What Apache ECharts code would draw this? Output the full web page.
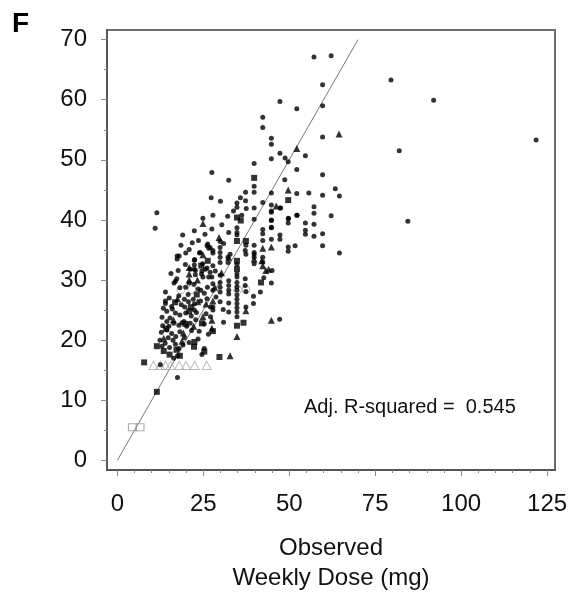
<!DOCTYPE html>
<html>
<head>
<meta charset="utf-8">
<script src="https://cdn.jsdelivr.net/npm/echarts@6/dist/echarts.min.js"></script>
<style>
  html, body { margin: 0; padding: 0; background: #fff; }
  #chart { width: 575px; height: 598px; }
</style>
</head>
<body>
<div id="chart"></div>
<script>
// tick labels
const xTicks = [0, 25, 50, 75, 100, 125];
const xMinorTicks = [0, 5, 10, 15, 20, 25, 30, 35, 40, 45, 50, 55, 60, 65, 70, 75, 80, 85, 90, 95, 100, 105, 110, 115, 120, 125];
const yTicks = [0, 10, 20, 30, 40, 50, 60, 70];
const yMinorTicks = [0, 5, 10, 15, 20, 25, 30, 35, 40, 45, 50, 55, 60, 65, 70];

// identity line (observed = predicted)
const refLine = [[0, 0], [70, 70]];

// [observed, predicted]
const dots = [
  [59.7,62.5],[79.6,63.3],[92,59.9],[59.7,59],[121.8,53.3],[59.7,53.8],[82,51.5],[54.7,50.7],[59.7,47.5],[63.4,45.2],
  [55.7,44.5],[59.7,44.1],[64.6,44],[57.2,42.2],[57.2,41.1],[62.2,40.7],[84.5,39.8],[54.7,39.5],[57.2,39.3],[54.7,38.3],
  [54.7,37.6],[57.2,37.3],[59.7,37.7],[59.7,35.7],[64.6,34.5],[57.2,67.1],[62.2,67.3],[47.3,59.7],[52.2,58.5],[44.8,53.6],
  [44.8,52.6],[47.3,51.1],[44.8,50.2],[48.8,50.3],[49.7,49.7],[42.3,57.1],[42.3,55.4],[39.8,49.4],[52.2,48.4],[27.5,47.9],
  [32.4,46.6],[39.8,45.6],[39.8,44.6],[48.7,46.7],[44.8,44.5],[52.2,44.4],[37.3,44.6],[35.8,43.7],[37.3,43.2],[34.8,42.8],
  [34.8,42.1],[30,43.1],[27.3,43.7],[33.8,41.5],[39.8,42],[42.3,42.9],[44.8,42.5],[44.8,41.5],[47.5,42],[11.5,41.2],
  [11,38.6],[24.9,40.3],[27.8,40.8],[20.9,35.1],[19.9,34.5],[17.4,34],[17.4,33.5],[23.9,34.5],[26.1,35.7],[26.6,35.3],
  [27.8,34.9],[27.8,34.5],[22.4,33.3],[24.8,32.7],[22.4,32.5],[26.1,32],[27.8,32.4],[52.2,40.8],[49.7,40.2],[49.7,39.5],
  [39.8,40.1],[44.8,40],[34.8,38.7],[34.8,37.9],[42.3,38.4],[42.3,37.7],[44.8,38.7],[47.3,37.5],[47.3,36.8],[30.9,36.1],
  [37.4,35.8],[39.8,35.8],[42.3,36.6],[49.7,35.5],[49.7,34.8],[51.7,35.7],[29.9,34.6],[29.9,33.8],[32.8,34.3],[34.8,32.6],
  [37.4,34.3],[39.8,34.3],[39.8,32.7],[42.3,33.8],[42.3,33],[45,31.6],[22.4,38.2],[29.9,36.4],[32.4,37.9],[34.8,37.5],
  [44.8,36.8],[16.9,29.8],[16.5,29.5],[20.9,29.5],[24.9,30.5],[26.6,30.5],[27.5,30.5],[24.5,31],[27.8,29.4],[14,26.5],
  [17.9,27.4],[19.5,26.8],[20.7,26.4],[22.1,26.8],[22.4,26],[26.1,26.9],[27.1,25.5],[22.4,25],[19.9,24.5],[18.2,24.2],
  [16.9,24.5],[14.4,24.8],[15.3,23.7],[14.4,23.1],[16.4,22.8],[17.9,22.5],[19.4,23.1],[20.2,22.3],[21.2,22.8],[22.8,23.4],
  [25.8,24.4],[27.1,23.9],[25.3,22.7],[14.4,21.7],[15.8,21.1],[17,20.6],[18.2,21.4],[12.4,20],[13.9,19.5],[13,19],
  [15.2,18.8],[17.9,18.6],[19.1,19.2],[20.9,19.6],[25.3,18.6],[24.6,17.6],[17.5,17.4],[16.4,17],[12.5,15.9],[17.5,13.8],
  [34.8,31],[34.8,30.5],[34.8,29.6],[34.8,28.9],[34.8,28.3],[34.8,27.5],[34.8,26.8],[34.8,26.1],[34.8,25.4],[34.8,24.7],
  [34.8,23.9],[32.4,29.9],[32.4,29.1],[32.4,28.3],[32.4,27.7],[32.4,26.2],[32.4,24.7],[29.9,30.8],[29.9,29.6],[29.9,28.8],
  [29.9,28],[29.9,26.4],[27.8,28.3],[27.8,25.5],[27.8,25],[37.2,30.2],[37.2,29.1],[37.4,28.1],[39.6,27.3],[39.6,26.1],
  [41.6,28],[42.6,30.4],[44.8,29.5],[37.4,25.5],[47.2,23.5],[17.3,30.2],[22.5,33.4],[18,34],[22.4,31.8],[22.7,30.9],
  [26.3,36],[27,35.4],[24.1,34.6],[29.9,35.4],[29.9,32.9],[32.2,33.8],[32.2,32.9],[37.2,34.9],[39.8,34.6],[39.8,33.8],
  [21.2,31.8],[22.7,31.6],[24.6,31.5],[25.6,31.8],[27,31.3],[14,28],[14,26.1],[44.8,41.3],[44.8,39.9],[47.3,42],
  [49.8,40.3],[52.3,40.8],[44.8,38.8],[19.9,28.8],[23.5,28.5],[25.3,27.8],[15.8,25.6],[18.6,25.9],[13.2,22.4],[16.2,20],
  [13,23.8],[15,22.3],[16,25.2],[18.8,22.9],[19.6,25.5],[21.5,24],[23,24.6],[23.8,21.5],[26.5,21],[12.8,21.3],
  [14.8,20.4],[16.9,19.3],[19.5,20.4],[21.6,21.6],[23.5,20.2],[20.6,27.6],[18.2,28.7],[24.3,28.3],[26.2,28.8],[22.3,29.3],
  [15.1,27],[13.4,25.3],[28.7,27.2],[30.8,25.1],[30.9,23],[24.2,26.5],[17.7,31.6],[19.8,32.6],[15.6,31.1],[28.5,31.5],
  [23.6,36.6],[25.5,37.6],[21.8,36.2],[18.5,35.8],[19,37.5],[30.4,39.2],[27.5,38.5],[32.1,40.6],[36.2,40.8],[37.5,41.9]
];
const triangles = [
  [64.5,54.3],[52.2,51.9],[49.7,45],[46.2,42.3],[24.9,39.4],[29.6,37.1],[24.9,34.2],[20.9,32.1],[42.3,35.3],[44.8,35.5],
  [32.4,33.8],[39.8,33.5],[42.3,32.4],[43.2,31.6],[20.9,31],[20.9,30],[23.3,30],[28.3,28.8],[17.5,26.9],[23.4,26.4],
  [24.9,23.9],[27.5,22],[19.2,21.2],[13.5,20.3],[34.8,20.6],[44.8,23.3],[32.8,17.4],[27.5,23.3],[44,31.8],[37.4,24.9],
  [27.8,26.5],[42,33.2],[16.3,23.4],[22.2,22.3],[18.8,19.8],[25.8,26],[30.3,31.2]
];
const squares = [
  [39.8,47],[49.7,43.3],[24.4,32.4],[34.8,40.4],[35.9,39.9],[37.4,36.5],[34.8,33.2],[34.8,31.8],[41.8,29.6],[21.4,25.5],
  [20.9,24.8],[24.6,22.8],[11.5,19],[17.2,18.4],[22.4,19.7],[22.3,18.9],[25.3,18.1],[15.2,17.6],[18.2,17.4],[29.7,17.2],
  [7.8,16.3],[11.5,11.4],[34.8,22.4],[36.7,22.9],[27.8,21.5],[34.8,36.5],[14.2,21.9],[19.8,22.7],[16.8,26.3],[13.5,18.2],
  [23.1,27.6],[26.3,33.2]
];
const openTriangles = [[10.5,15.8],[12.5,15.8],[14,15.8],[15.5,15.8],[18,15.8],[20,15.8],[22.5,15.8],[26,15.8]];
const openCircles = [[18.5,28.4],[21.7,28.4],[35,28.4],[37.4,28.4]];
const openSquares = [[4.4,5.5],[6.6,5.5]];

const chart = echarts.init(document.getElementById('chart'));
const font = 'Liberation Sans, Arial, sans-serif';

function baseX(extra) {
  return Object.assign({
    type: 'value', min: -3, max: 127.3, position: 'bottom', gridIndex: 0,
    splitLine: { show: false },
    axisLine: { show: true, onZero: false, lineStyle: { color: '#555', width: 2 } }
  }, extra);
}
function baseY(extra) {
  return Object.assign({
    type: 'value', min: -1.6, max: 71.6, position: 'left', gridIndex: 0,
    splitLine: { show: false },
    axisLine: { show: true, onZero: false, lineStyle: { color: '#555', width: 2 } }
  }, extra);
}

chart.setOption({
  animation: false,
  grid: { left: 107, top: 30, right: 20, bottom: 123, show: true, borderColor: '#6e6e6e', borderWidth: 2 },
  xAxis: [
    baseX({
      name: 'Observed\nWeekly Dose (mg)', nameLocation: 'middle', nameGap: 63,
      nameTextStyle: { fontFamily: font, fontSize: 24, color: '#111', lineHeight: 30 },
      axisTick: { show: true, inside: false, length: 6, customValues: xTicks, lineStyle: { color: '#888' } },
      axisLabel: { customValues: xTicks, fontFamily: font, fontSize: 24, color: '#111', margin: 22 }
    }),
    baseX({
      axisLine: { show: false, onZero: false },
      axisTick: { show: true, inside: false, length: 3, customValues: xMinorTicks, lineStyle: { color: '#888' } },
      axisLabel: { show: false }
    })
  ],
  yAxis: [
    baseY({
      axisTick: { show: true, inside: false, length: 6, customValues: yTicks, lineStyle: { color: '#888' } },
      axisLabel: { customValues: yTicks, fontFamily: font, fontSize: 24, color: '#111', margin: 20 }
    }),
    baseY({
      axisLine: { show: false, onZero: false },
      axisTick: { show: true, inside: false, length: 3, customValues: yMinorTicks, lineStyle: { color: '#888' } },
      axisLabel: { show: false }
    })
  ],
  graphic: [
    { type: 'text', left: 12, top: 10, style: { text: 'F', font: 'bold 28px ' + font, fill: '#000' } },
    { type: 'text', left: 304, top: 397, style: { text: 'Adj. R-squared =  0.545', font: '20px ' + font, fill: '#111' } }
  ],
  series: [
    { type: 'line', data: refLine, symbol: 'none', lineStyle: { color: '#777', width: 1 }, z: 1 },
    { type: 'scatter', data: openSquares, symbol: 'rect', symbolSize: [8, 7],
      itemStyle: { color: 'transparent', borderColor: '#999', borderWidth: 1 } },
    { type: 'scatter', data: openTriangles, symbol: 'triangle', symbolSize: [9, 8],
      itemStyle: { color: 'transparent', borderColor: '#aaa', borderWidth: 1 } },
    { type: 'scatter', data: openCircles, symbol: 'circle', symbolSize: 8,
      itemStyle: { color: 'transparent', borderColor: '#aaa', borderWidth: 1 } },
    { type: 'scatter', data: dots, symbol: 'circle', symbolSize: 5, itemStyle: { color: '#000' } },
    { type: 'scatter', data: triangles, symbol: 'triangle', symbolSize: 7, itemStyle: { color: '#000' } },
    { type: 'scatter', data: squares, symbol: 'rect', symbolSize: 6, itemStyle: { color: '#000' } }
  ]
});
</script>
</body>
</html>
